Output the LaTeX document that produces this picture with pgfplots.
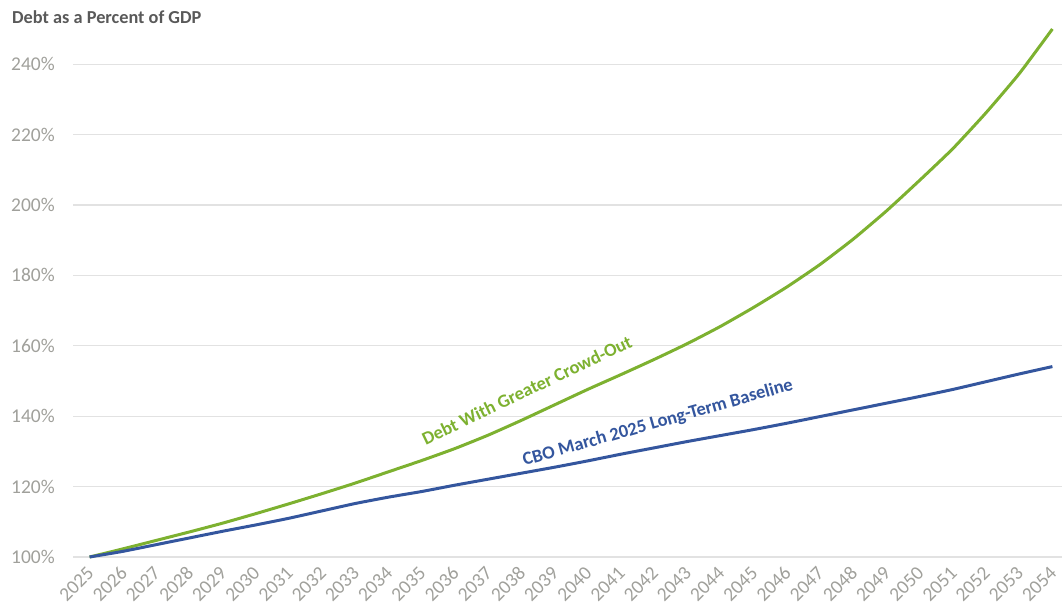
\documentclass[border=0pt]{standalone}
\usepackage{fontspec}
\setmainfont{Carlito}
\usepackage{pgfplots}
\usepackage{pgfplotstable}
\pgfplotsset{compat=1.18}
\definecolor{cgreen}{RGB}{125,177,48}
\definecolor{cblue}{RGB}{52,86,158}
\definecolor{ctick}{RGB}{160,160,155}
\definecolor{cgrid}{RGB}{226,226,226}
\definecolor{ctitle}{RGB}{89,89,89}
\pgfplotstableread{
year base crowd
2025 100.0 100.0
2026 101.6 102.3
2027 103.5 104.7
2028 105.4 107.1
2029 107.3 109.6
2030 109.1 112.3
2031 111.0 115.1
2032 113.1 118.0
2033 115.2 121.0
2034 117.0 124.2
2035 118.6 127.4
2036 120.4 130.8
2037 122.1 134.6
2038 123.8 138.8
2039 125.5 143.2
2040 127.3 147.6
2041 129.2 151.8
2042 131.0 156.1
2043 132.8 160.6
2044 134.5 165.5
2045 136.2 170.9
2046 138.0 176.7
2047 139.9 183.1
2048 141.8 190.3
2049 143.7 198.3
2050 145.6 207.0
2051 147.6 216.0
2052 149.8 226.2
2053 152.0 237.3
2054 154.1 250.0
}\datatab
\begin{document}
\begin{tikzpicture}
\path[use as bounding box] (0,0) rectangle (1062pt,608pt);
\node[anchor=base west, text=ctitle, font=\fontsize{18.3}{20}\selectfont\bfseries, inner sep=0pt] at (12pt,584.5pt) {Debt as a Percent of GDP};
\begin{axis}[
  at={(73pt,51pt)}, anchor=south west,
  scale only axis, width=996pt, height=528pt,
  xmin=2024.5, xmax=2054.5, ymin=100, ymax=250,
  clip=false,
  axis line style={draw=none},
  tick style={draw=none},
  ymajorgrids, grid style={cgrid, line width=1.2pt},
  xtick={2025,...,2054},
  ytick={100,120,...,240},
  yticklabels={100\%,120\%,140\%,160\%,180\%,200\%,220\%,240\%},
  /pgf/number format/assume math mode=true,
  /pgf/number format/1000 sep={},
  xticklabel style={xshift=1pt, yshift=-13pt, rotate=45, anchor=east, inner sep=0pt, text=ctick, font=\fontsize{19.5}{21}\selectfont},
  yticklabel style={anchor=east, inner sep=0pt, xshift=-18pt, text=ctick, font=\fontsize{19.5}{21}\selectfont},
]
\addplot[cgreen, line width=3pt, smooth, tension=0.3] table[x=year, y=crowd] {\datatab};
\addplot[cblue, line width=3pt, smooth, tension=0.3] table[x=year, y=base] {\datatab};
\node[rotate=25.6, text=cgreen, font=\fontsize{18.5}{20}\selectfont\bfseries, inner sep=0pt] at (axis cs:2038.17,147.4) {Debt With Greater Crowd-Out};
\node[rotate=15.8, text=cblue, font=\fontsize{18.5}{20}\selectfont\bfseries, inner sep=0pt] at (axis cs:2042.12,138.1) {CBO March 2025 Long-Term Baseline};
\end{axis}
\end{tikzpicture}
\end{document}
